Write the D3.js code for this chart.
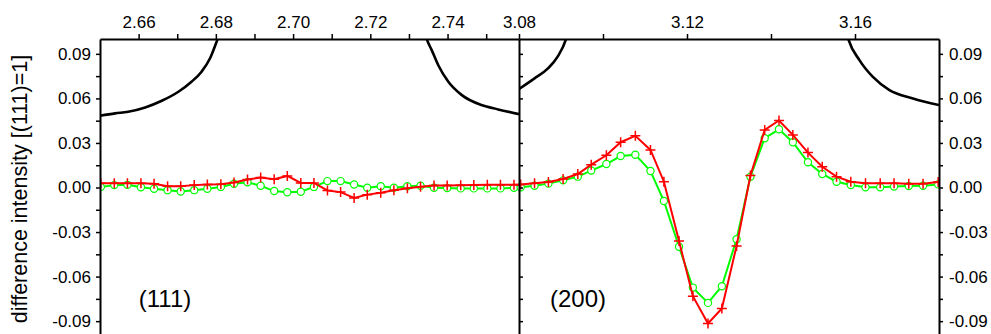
<!DOCTYPE html>
<html>
<head>
<meta charset="utf-8">
<script src="https://cdn.jsdelivr.net/npm/d3@7/dist/d3.min.js"></script>
<style>
  body { margin: 0; background: #fff; }
  svg { display: block; }
</style>
</head>
<body>
<script>
// (111) region, sampled positions
const leftX = [2.6502, 2.6537, 2.6571, 2.6606, 2.6640, 2.6675, 2.6709, 2.6744, 2.6778, 2.6813,
  2.6847, 2.6882, 2.6916, 2.6951, 2.6985, 2.7020, 2.7054, 2.7089, 2.7123, 2.7158,
  2.7192, 2.7227, 2.7261, 2.7296, 2.7330, 2.7365, 2.7399, 2.7434, 2.7468, 2.7503,
  2.7537, 2.7572]
const leftRed = [0.0029, 0.0029, 0.0029, 0.0029, 0.0025, 0.0009, 0.0009, 0.0016, 0.0020, 0.0022,
  0.0034, 0.0054, 0.0068, 0.0055, 0.0078, 0.0031, 0.0031, -0.0020, -0.0031, -0.0070,
  -0.0048, -0.0035, -0.0019, -0.0005, 0.0005, 0.0013, 0.0014, 0.0015, 0.0016, 0.0018,
  0.0018, 0.0019]
const leftGreen = [0.0004, 0.0016, 0.0018, 0.0002, -0.0009, -0.0018, -0.0027, -0.0018, -0.0009, 0.0004,
  0.0025, 0.0035, 0.0012, -0.0024, -0.0032, -0.0029, 0.0004, 0.0043, 0.0043, 0.0020,
  -0.0002, 0.0009, -0.0002, 0.0009, 0.0012, -0.0002, -0.0004, -0.0006, -0.0006, -0.0006,
  -0.0006, -0.0002]

// (200) region
const rightX = [3.0804, 3.0837, 3.0870, 3.0905, 3.0940, 3.0972, 3.1008, 3.1042, 3.1077, 3.1113,
  3.1145, 3.1181, 3.1214, 3.1250, 3.1283, 3.1318, 3.1351, 3.1385, 3.1419, 3.1452,
  3.1488, 3.1522, 3.1556, 3.1590, 3.1625, 3.1660, 3.1693, 3.1728, 3.1762, 3.1798]
const rightRed = [0.0021, 0.0028, 0.0037, 0.0057, 0.0091, 0.0154, 0.0217, 0.0305, 0.0348, 0.0253,
  0.0039, -0.0361, -0.0732, -0.0916, -0.0815, -0.0394, 0.0080, 0.0388, 0.0451, 0.0354,
  0.0235, 0.0140, 0.0073, 0.0039, 0.0028, 0.0028, 0.0028, 0.0026, 0.0026, 0.0037]
const rightGreen = [0.0001, 0.0012, 0.0026, 0.0048, 0.0073, 0.0114, 0.0158, 0.0212, 0.0221, 0.0111,
  -0.0091, -0.0399, -0.0674, -0.0777, -0.0665, -0.0348, 0.0073, 0.0332, 0.0392, 0.0305,
  0.0170, 0.0091, 0.0039, 0.0017, 0.0001, 0.0001, 0.0006, 0.0010, 0.0012, 0.0021]

// reference peak profile (black), pieces that show inside each panel
const peak111aX = [2.6500, 2.6539, 2.6573, 2.6617, 2.6660, 2.6703, 2.6737, 2.6763, 2.6785, 2.6802, 2.6813]
const peak111aY = [0.0483, 0.0499, 0.0510, 0.0539, 0.0584, 0.0645, 0.0712, 0.0780, 0.0870, 0.0982, 0.1060]
const peak111bX = [2.7339, 2.7346, 2.7359, 2.7376, 2.7402, 2.7437, 2.7488, 2.7531, 2.7585]
const peak111bY = [0.1060, 0.1000, 0.0925, 0.0823, 0.0712, 0.0622, 0.0555, 0.0526, 0.0494]
const peak200aX = [3.0800, 3.0837, 3.0869, 3.0892, 3.0912, 3.0918]
const peak200aY = [0.0663, 0.0735, 0.0802, 0.0881, 0.1000, 0.1060]
const peak200bX = [3.1578, 3.1584, 3.1611, 3.1642, 3.1682, 3.1738, 3.1800]
const peak200bY = [0.1060, 0.1000, 0.0856, 0.0746, 0.0656, 0.0600, 0.0555]

const leftTicks = [2.66, 2.67, 2.68, 2.69, 2.70, 2.71, 2.72, 2.73, 2.74, 2.75]
const leftTickLabels = [2.66, 2.68, 2.70, 2.72, 2.74]
const rightTicks = [3.08, 3.10, 3.12, 3.14, 3.16]
const rightTickLabels = [3.08, 3.12, 3.16]
const yTicks = [-0.09, -0.075, -0.06, -0.045, -0.03, -0.015, 0, 0.015, 0.03, 0.045, 0.06, 0.075, 0.09]
const yTickLabels = [-0.09, -0.06, -0.03, 0, 0.03, 0.06, 0.09]

const font = "Arial, 'Liberation Sans', sans-serif"
const plotTop = 39
const plotBottom = 336

const svg = d3.select('body').append('svg')
  .attr('width', 991)
  .attr('height', 334)
  .attr('font-family', font)

const y = d3.scaleLinear().domain([-0.1, 0.1]).range([plotBottom, plotTop])
const xLeft = d3.scaleLinear().domain([2.65, 2.7585]).range([100, 519])
const xRight = d3.scaleLinear().domain([3.08, 3.18]).range([519, 939])

const defs = svg.append('defs')
const addClip = (id, scale) => {
  const [x0, x1] = scale.range()
  defs.append('clipPath').attr('id', id)
    .append('rect')
    .attr('x', x0).attr('y', plotTop)
    .attr('width', x1 - x0).attr('height', plotBottom - plotTop)
}
addClip('clip-left', xLeft)
addClip('clip-right', xRight)
defs.append('clipPath').attr('id', 'clip-all')
  .append('rect')
  .attr('x', 100).attr('y', plotTop)
  .attr('width', 839).attr('height', plotBottom - plotTop)

const line = d3.line().x(d => d[0]).y(d => d[1])
const curve = d3.line().x(d => d[0]).y(d => d[1]).curve(d3.curveMonotoneX)

// black reference peaks
const peaks = [
  [peak111aX, peak111aY, xLeft, 'clip-left'],
  [peak111bX, peak111bY, xLeft, 'clip-left'],
  [peak200aX, peak200aY, xRight, 'clip-right'],
  [peak200bX, peak200bY, xRight, 'clip-right']
]
peaks.forEach(([xs, ys, sx, clip]) => {
  svg.append('path')
    .attr('clip-path', `url(#${clip})`)
    .attr('d', curve(xs.map((v, i) => [sx(v), y(ys[i])])))
    .attr('fill', 'none')
    .attr('stroke', '#000')
    .attr('stroke-width', 2.6)
})

// both panels joined into one trace, each side through its own scale
const toPixels = (xs, ys, sx) => xs.map((v, i) => [sx(v), y(ys[i])])
const greenPts = toPixels(leftX, leftGreen, xLeft).concat(toPixels(rightX, rightGreen, xRight))
const redPts = toPixels(leftX, leftRed, xLeft).concat(toPixels(rightX, rightRed, xRight))

const data = svg.append('g').attr('clip-path', 'url(#clip-all)')

data.append('path')
  .attr('d', line(greenPts))
  .attr('fill', 'none')
  .attr('stroke', '#00ff00')
  .attr('stroke-width', 2)

data.selectAll('circle.green')
  .data(greenPts)
  .join('circle')
  .attr('class', 'green')
  .attr('cx', d => d[0])
  .attr('cy', d => d[1])
  .attr('r', 3.6)
  .attr('fill', '#fff')
  .attr('stroke', '#00ff00')
  .attr('stroke-width', 1.2)

data.append('path')
  .attr('d', line(redPts))
  .attr('fill', 'none')
  .attr('stroke', '#ff0000')
  .attr('stroke-width', 2)

data.selectAll('path.plus')
  .data(redPts)
  .join('path')
  .attr('class', 'plus')
  .attr('d', d => `M${d[0] - 5},${d[1]}H${d[0] + 5}M${d[0]},${d[1] - 5}V${d[1] + 5}`)
  .attr('stroke', '#ff0000')
  .attr('stroke-width', 1.5)

// axes
const styleAxis = (g, labelled) => {
  g.attr('font-size', 17).attr('font-family', font)
  g.select('.domain').attr('stroke', '#000').attr('stroke-width', 2)
  g.selectAll('.tick line').attr('stroke', '#000').attr('stroke-width', 1.5)
  g.selectAll('.tick text').attr('fill', '#000')
  if (!labelled) g.selectAll('.tick text').remove()
}

svg.append('g')
  .attr('transform', `translate(0,${plotTop})`)
  .call(d3.axisTop(xLeft)
    .tickValues(leftTicks)
    .tickSize(5)
    .tickSizeOuter(0)
    .tickPadding(6)
    .tickFormat(d => leftTickLabels.includes(d) ? d.toFixed(2) : ''))
  .call(g => styleAxis(g, true))

svg.append('g')
  .attr('transform', `translate(0,${plotTop})`)
  .call(d3.axisTop(xRight)
    .tickValues(rightTicks)
    .tickSize(5)
    .tickSizeOuter(0)
    .tickPadding(6)
    .tickFormat(d => rightTickLabels.includes(d) ? d.toFixed(2) : ''))
  .call(g => styleAxis(g, true))

const yFormat = d => yTickLabels.includes(d) ? d.toFixed(2) : ''

svg.append('g')
  .attr('transform', 'translate(100,0)')
  .call(d3.axisLeft(y).tickValues(yTicks).tickSize(4).tickSizeOuter(0).tickPadding(5).tickFormat(yFormat))
  .call(g => styleAxis(g, true))

svg.append('g')
  .attr('transform', 'translate(939,0)')
  .call(d3.axisRight(y).tickValues(yTicks).tickSize(4).tickSizeOuter(0).tickPadding(6).tickFormat(yFormat))
  .call(g => styleAxis(g, true))

// break between the two panels
svg.append('g')
  .attr('transform', 'translate(519,0)')
  .call(d3.axisRight(y).tickValues(yTicks).tickSize(4).tickSizeOuter(0))
  .call(g => styleAxis(g, false))

svg.append('text')
  .attr('transform', 'rotate(-90)')
  .attr('x', -189)
  .attr('y', 27)
  .attr('text-anchor', 'middle')
  .attr('font-size', 21.5)
  .text('difference intensity [(111)=1]')

svg.append('text')
  .attr('x', 165)
  .attr('y', 307)
  .attr('text-anchor', 'middle')
  .attr('font-size', 24)
  .text('(111)')

svg.append('text')
  .attr('x', 578)
  .attr('y', 307)
  .attr('text-anchor', 'middle')
  .attr('font-size', 24)
  .text('(200)')
</script>
</body>
</html>
